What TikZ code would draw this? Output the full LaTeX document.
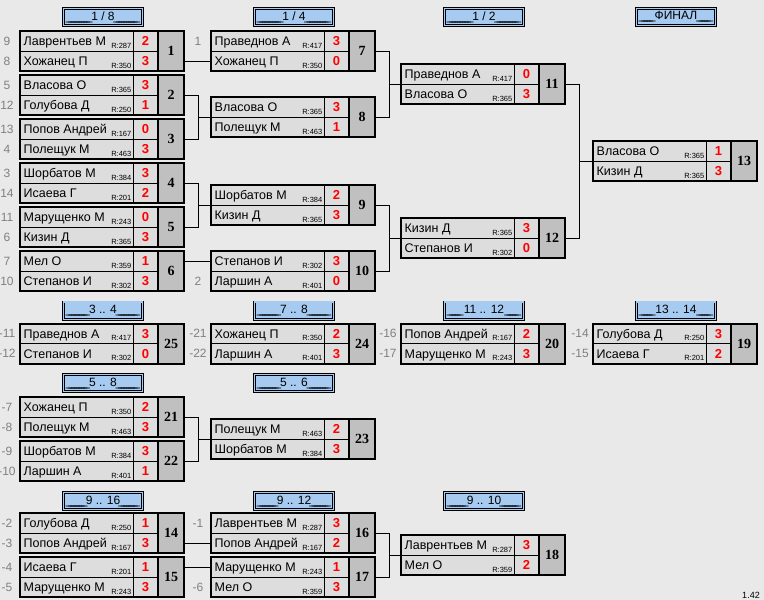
\documentclass[tikz,border=0pt]{standalone}
\usepackage{fontspec}
\setmainfont{Liberation Sans}
\newfontfamily\numfont{Liberation Serif}
\definecolor{bgc}{RGB}{233,233,233}
\definecolor{cellc}{RGB}{221,221,221}
\definecolor{numc}{RGB}{192,192,192}
\definecolor{hdrc}{RGB}{166,202,240}
\definecolor{seedc}{RGB}{128,128,128}
\tikzset{
 conn/.style={line width=1pt, black},
 nm/.style={anchor=base west, inner sep=0, font=\fontsize{12.5}{14}\selectfont},
 rt/.style={anchor=base east, inner sep=0, font=\fontsize{7.5}{8}\selectfont},
 sc/.style={anchor=base, inner sep=0, text=red, font=\fontsize{13}{14}\selectfont\bfseries},
 mnum/.style={anchor=center, inner sep=0, font=\fontsize{14}{15}\selectfont\numfont\bfseries},
 seed/.style={anchor=center, inner sep=0, text=seedc, font=\fontsize{12}{14}\selectfont},
 hdr/.style={draw=black, line width=0.8pt, double=hdrc, double distance=1.2pt, fill=hdrc, minimum width=79.2, minimum height=17.2, inner sep=0, font=\fontsize{12}{14}\selectfont},
}
\newcommand\uline{\leaders\hbox to 2.5pt{\hss\_\hss}\hfill}
\newcommand\hd[4]{\node[hdr] (#1) at (#2,#3) {\makebox[70pt]{\uline #4\uline}};}
\newcommand\mm[9]{%
\begin{scope}[shift={(#1,#2)}]
 \node[minimum width=164, minimum height=40, inner sep=0, anchor=north west] (m#3) at (0,0) {};
 \coordinate (m#3a) at (0,10);
 \coordinate (m#3b) at (0,30);
 \fill[cellc] (0,0) rectangle (138,40);
 \fill[numc] (138,0) rectangle (164,40);
 \draw[line width=1pt] (0,20) -- (138,20) (113,0) -- (113,40);
 \draw[line width=2pt] (0,0) rectangle (164,40) (138,0) -- (138,40);
 \node[nm] (m#3an) at (3.5,14.5) {#4};
 \node[rt] (m#3ar) at (111.5,17) {R:#5};
 \node[sc] (m#3as) at (125.5,14.5) {#6};
 \node[nm] (m#3bn) at (3.5,34.5) {#7};
 \node[rt] (m#3br) at (111.5,37) {R:#8};
 \node[sc] (m#3bs) at (125.5,34.5) {#9};
 \node[mnum] (m#3nr) at (151,20) {#3};
\end{scope}}
\newcommand\sd[3]{\node[seed] (sd#1#2) at ([xshift=-13pt]m#1#2) {#3};}
\begin{document}
\begin{tikzpicture}[x=1pt,y=-1pt]
\useasboundingbox (0,0) rectangle (764,600);
\fill[bgc] (0,0) rectangle (764,600);
% headers
\hd{h1}{103}{17}{1 / 8}
\hd{h2}{294}{17}{1 / 4}
\hd{h3}{484}{17}{1 / 2}
\hd{h4}{676}{17}{ФИНАЛ}
\hd{h5}{103}{310.5}{3 .. 4}
\hd{h6}{294}{310.5}{7 .. 8}
\hd{h7}{484}{310.5}{11 .. 12}
\hd{h8}{676}{310.5}{13 .. 14}
\hd{h9}{103}{383}{5 .. 8}
\hd{h10}{294}{383}{5 .. 6}
\hd{h11}{103}{501}{9 .. 16}
\hd{h12}{294}{501}{9 .. 12}
\hd{h13}{484}{501}{9 .. 10}
% matches
\mm{20}{31}{1}{Лаврентьев М}{287}{2}{Хожанец П}{350}{3}
\mm{20}{75}{2}{Власова О}{365}{3}{Голубова Д}{250}{1}
\mm{20}{119}{3}{Попов Андрей}{167}{0}{Полещук М}{463}{3}
\mm{20}{163}{4}{Шорбатов М}{384}{3}{Исаева Г}{201}{2}
\mm{20}{207}{5}{Марущенко М}{243}{0}{Кизин Д}{365}{3}
\mm{20}{251}{6}{Мел О}{359}{1}{Степанов И}{302}{3}
\mm{211}{31}{7}{Праведнов А}{417}{3}{Хожанец П}{350}{0}
\mm{211}{97}{8}{Власова О}{365}{3}{Полещук М}{463}{1}
\mm{211}{185}{9}{Шорбатов М}{384}{2}{Кизин Д}{365}{3}
\mm{211}{251}{10}{Степанов И}{302}{3}{Ларшин А}{401}{0}
\mm{401}{64}{11}{Праведнов А}{417}{0}{Власова О}{365}{3}
\mm{401}{218}{12}{Кизин Д}{365}{3}{Степанов И}{302}{0}
\mm{593}{141}{13}{Власова О}{365}{1}{Кизин Д}{365}{3}
\mm{20}{323.5}{25}{Праведнов А}{417}{3}{Степанов И}{302}{0}
\mm{211}{323.5}{24}{Хожанец П}{350}{2}{Ларшин А}{401}{3}
\mm{401}{323.5}{20}{Попов Андрей}{167}{2}{Марущенко М}{243}{3}
\mm{593}{323.5}{19}{Голубова Д}{250}{3}{Исаева Г}{201}{2}
\mm{20}{397}{21}{Хожанец П}{350}{2}{Полещук М}{463}{3}
\mm{20}{441}{22}{Шорбатов М}{384}{3}{Ларшин А}{401}{1}
\mm{211}{419}{23}{Полещук М}{463}{2}{Шорбатов М}{384}{3}
\mm{20}{513}{14}{Голубова Д}{250}{1}{Попов Андрей}{167}{3}
\mm{20}{557}{15}{Исаева Г}{201}{1}{Марущенко М}{243}{3}
\mm{211}{513}{16}{Лаврентьев М}{287}{3}{Попов Андрей}{167}{2}
\mm{211}{557}{17}{Марущенко М}{243}{1}{Мел О}{359}{3}
\mm{401}{535}{18}{Лаврентьев М}{287}{3}{Мел О}{359}{2}
% seeds
\sd{1}{a}{9}\sd{1}{b}{8}
\sd{2}{a}{5}\sd{2}{b}{12}
\sd{3}{a}{13}\sd{3}{b}{4}
\sd{4}{a}{3}\sd{4}{b}{14}
\sd{5}{a}{11}\sd{5}{b}{6}
\sd{6}{a}{7}\sd{6}{b}{10}
\sd{7}{a}{1}\sd{10}{b}{2}
\sd{25}{a}{-11}\sd{25}{b}{-12}
\sd{24}{a}{-21}\sd{24}{b}{-22}
\sd{20}{a}{-16}\sd{20}{b}{-17}
\sd{19}{a}{-14}\sd{19}{b}{-15}
\sd{21}{a}{-7}\sd{21}{b}{-8}
\sd{22}{a}{-9}\sd{22}{b}{-10}
\sd{14}{a}{-2}\sd{14}{b}{-3}
\sd{15}{a}{-4}\sd{15}{b}{-5}
\sd{16}{a}{-1}\sd{17}{b}{-6}
% connectors
\draw[conn] (m1.east |- m7b) -- (m7b);
\draw[conn] (m6.east |- m10a) -- (m10a);
\draw[conn] (m14.east |- m16b) -- (m16b);
\draw[conn] (m15.east |- m17a) -- (m17a);
\draw[conn] (m2.east) -- ++(14,0) |- (m8.west);
\draw[conn] (m3.east) -- ++(14,0) |- (m8.west);
\draw[conn] (m4.east) -- ++(14,0) |- (m9.west);
\draw[conn] (m5.east) -- ++(14,0) |- (m9.west);
\draw[conn] (m7.east) -- ++(14,0) |- (m11.west);
\draw[conn] (m8.east) -- ++(14,0) |- (m11.west);
\draw[conn] (m9.east) -- ++(14,0) |- (m12.west);
\draw[conn] (m10.east) -- ++(14,0) |- (m12.west);
\draw[conn] (m11.east) -- ++(14,0) |- (m13.west);
\draw[conn] (m12.east) -- ++(14,0) |- (m13.west);
\draw[conn] (m21.east) -- ++(14,0) |- (m23.west);
\draw[conn] (m22.east) -- ++(14,0) |- (m23.west);
\draw[conn] (m16.east) -- ++(14,0) |- (m18.west);
\draw[conn] (m17.east) -- ++(14,0) |- (m18.west);
\node[anchor=base, inner sep=0, font=\fontsize{9}{10}\selectfont] (ver) at (751,598) {1.42};
\end{tikzpicture}
\end{document}
